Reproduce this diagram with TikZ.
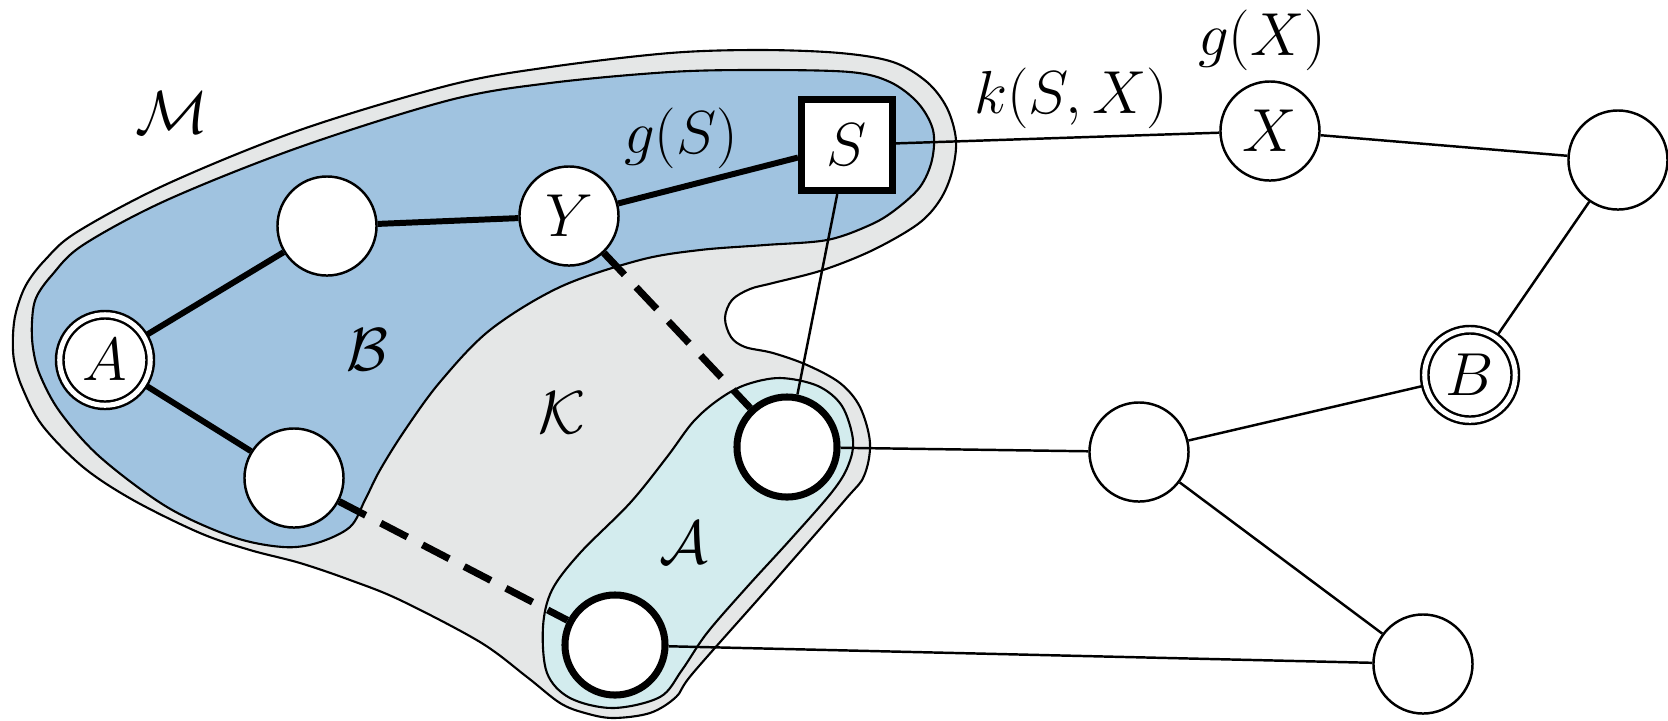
\documentclass[tikz,border=0pt]{standalone}
\pgfdeclarelayer{regions}
\pgfdeclarelayer{edges}
\pgfsetlayers{regions,edges,main}
\definecolor{regiongray}{HTML}{E5E7E7}
\definecolor{regionblue}{HTML}{A0C3E0}
\definecolor{regioncyan}{HTML}{D3ECEE}
\begin{document}
\begin{tikzpicture}[x=0.01cm, y=-0.01cm,
  every node/.style={font=\fontsize{17.28}{21}\selectfont},
  vert/.style={circle, draw, fill=white, line width=0.7pt, minimum size=0.99cm, inner sep=0pt},
  termvert/.style={circle, draw, double, double distance=0.05cm, fill=white, line width=0.7pt, minimum size=0.905cm, inner sep=0pt},
  heavyvert/.style={circle, draw, fill=white, line width=2pt, minimum size=1.0cm, inner sep=0pt},
  sbox/.style={rectangle, draw, fill=white, line width=2pt, minimum size=0.91cm, inner sep=0pt},
  treeedge/.style={line width=1.7pt},
  thinedge/.style={line width=0.7pt},
  dashedge/.style={line width=2pt, dash pattern=on 0.3cm off 0.17cm},
  region/.style={draw=black, line width=0.6pt},
  lbl/.style={inner sep=0pt}
]
\useasboundingbox (0,0) rectangle (1668,720);

% regions
\begin{pgfonlayer}{regions}
\path[region, fill=regiongray] plot[smooth cycle, tension=0.55] coordinates {
 (13,335) (16,312) (26,285) (45,260) (77,232) (167,184) (300,130) (450,85)
 (550,67) (670,53) (760,50) (840,53) (893,62) (927,82) (947,108) (956,140)
 (952,172) (940,200) (918,224) (873,250) (823,270) (773,283) (750,289)
 (732,300) (725,318) (731,337) (745,347) (773,353) (807,365) (840,383)
 (860,407) (870,443) (864,476) (845,500) (769,587) (693,673) (676,697)
 (650,713) (613,718) (585,713) (560,703) (527,677) (480,642) (400,600)
 (350,580) (300,563) (250,550) (200,533) (133,500) (83,467) (42,425)
 (22,387) (14,360)};
\path[region, fill=regionblue] plot[smooth cycle, tension=0.55] coordinates {
 (32,322) (36,298) (52,275) (83,245) (167,200) (300,147) (450,100)
 (550,83) (670,72) (760,70) (850,72) (890,82) (918,103) (933,130)
 (932,160) (920,187) (895,210) (870,225) (827,240) (765,245) (700,250)
 (640,260) (560,287) (490,330) (440,382) (405,430) (380,470) (365,500)
 (350,527) (317,543) (283,547) (233,537) (167,507) (100,457) (60,412)
 (40,375) (33,348)};
\path[region, fill=regioncyan] plot[smooth cycle, tension=0.55] coordinates {
 (745,385) (780,378) (818,386) (842,406) (853,440) (848,466) (832,492)
 (790,540) (747,587) (707,633) (682,670) (660,697) (613,708) (570,698)
 (547,673) (543,627) (552,590) (580,553) (630,503) (667,457) (693,422)
 (718,400)};
\end{pgfonlayer}

% vertices
\node[termvert] (A) at (105,360) {$A$};
\node[vert] (tl) at (327,226) {};
\node[vert] (Y) at (569,216) {$Y$};
\node[sbox] (S) at (847,145) {$S$};
\node[vert] (X) at (1270,131) {$X$};
\node[vert] (r1) at (1618,160) {};
\node[termvert] (B) at (1470,375) {$B$};
\node[vert] (m1) at (1139,452) {};
\node[vert] (r3) at (1423,664) {};
\node[vert] (bl) at (294,478) {};
\node[heavyvert] (a1) at (787,447) {};
\node[heavyvert] (a2) at (615,645) {};

% labels
\node[lbl] (lM) at (172,113) {$\mathcal{M}$};
\node[lbl] (lgS) at (681,138) {$g(S)$};
\node[lbl] (lk) at (1071,98) {$k(S,X)$};
\node[lbl] (lgX) at (1262,40) {$g(X)$};
\node[lbl] (lB) at (367,350) {$\mathcal{B}$};
\node[lbl] (lK) at (562,413) {$\mathcal{K}$};
\node[lbl] (lA) at (684,543) {$\mathcal{A}$};

% edges
\begin{pgfonlayer}{edges}
\draw[treeedge] (A) -- (tl);
\draw[treeedge] (A) -- (bl);
\draw[treeedge] (tl) -- (Y);
\draw[treeedge] (Y) -- (S);
\draw[dashedge] (Y) -- (a1);
\draw[dashedge] (bl) -- (a2);
\draw[thinedge] (S) -- (a1);
\draw[thinedge] (S) -- (X);
\draw[thinedge] (X) -- (r1);
\draw[thinedge] (r1) -- (B);
\draw[thinedge] (B) -- (m1);
\draw[thinedge] (a1) -- (m1);
\draw[thinedge] (m1) -- (r3);
\draw[thinedge] (a2) -- (r3);
\end{pgfonlayer}
\end{tikzpicture}
\end{document}
